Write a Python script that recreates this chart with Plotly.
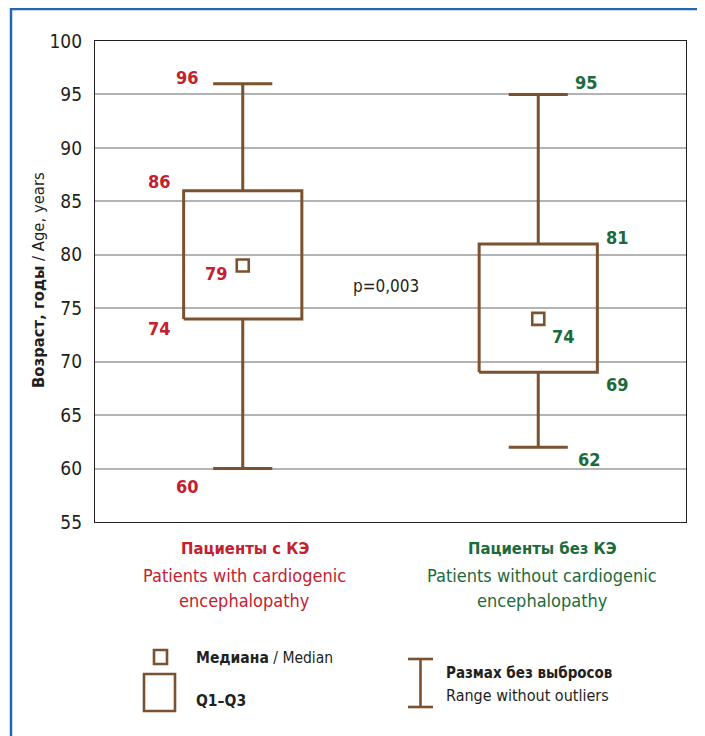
import plotly.graph_objects as go

# ---------------- data ----------------
groups_ru = ["Пациенты с КЭ", "Пациенты без КЭ"]
groups_en_line1 = ["Patients with cardiogenic", "Patients without cardiogenic"]
groups_en_line2 = ["encephalopathy", "encephalopathy"]
minimum = [60, 62]
q1 = [74, 69]
median = [79, 74]
q3 = [86, 81]
maximum = [96, 95]
p_value_text = "p=0,003"
y_ticks = [55, 60, 65, 70, 75, 80, 85, 90, 95, 100]

# ---------------- style ----------------
OFF = 8  # browser default body margin
W, H = 705 - OFF, 736 - OFF
ML, MT = 95 - OFF, 41 - OFF
PW, PH = 591, 481
MR = W - ML - PW
MB = H - MT - PH
FONT = "Liberation Sans Narrow, Arial Narrow, DejaVu Sans Condensed, sans-serif"
BROWN = "#7A5230"
RED = "#C4202F"
GREEN = "#1B6B3A"
DARK = "#231F20"
BLUE = "#2266B0"
group_colors = [RED, GREEN]
positions = [0.25, 0.75]
box_half = 0.10
cap_half = 0.05


def px_x(px):
    return (px - OFF - ML) / PW


def px_y(py):
    return (MT + PH - (py - OFF)) / PH


fig = go.Figure()

for i, c in enumerate(positions):
    # box Q1-Q3
    fig.add_trace(go.Scatter(
        x=[c - box_half, c + box_half, c + box_half, c - box_half, c - box_half],
        y=[q1[i], q1[i], q3[i], q3[i], q1[i]],
        mode="lines", line=dict(color=BROWN, width=3), hoverinfo="skip", showlegend=False))
    # whiskers
    fig.add_trace(go.Scatter(
        x=[c, c, None, c - cap_half, c + cap_half, None, c, c, None, c - cap_half, c + cap_half],
        y=[q3[i], maximum[i], None, maximum[i], maximum[i], None,
           q1[i], minimum[i], None, minimum[i], minimum[i]],
        mode="lines", line=dict(color=BROWN, width=3), hoverinfo="skip", showlegend=False))
    # median
    fig.add_trace(go.Scatter(
        x=[c], y=[median[i]], mode="markers",
        marker=dict(symbol="square-open", size=12, color=BROWN, line=dict(width=2.6, color=BROWN)),
        hoverinfo="skip", showlegend=False))

annotations = []

# value labels (xshift, yshift in px relative to the value's position)
label_offsets = [
    # group 1 : min, q1, median, q3, max
    [(-55, -18), (-83, -10), (-26, -8), (-83, 9), (-55, 6)],
    # group 2
    [(51, -12), (79, -12), (25, -18), (79, 7), (48, 12)],
]
for i, c in enumerate(positions):
    vals = [minimum[i], q1[i], median[i], q3[i], maximum[i]]
    for v, (dx, dy) in zip(vals, label_offsets[i]):
        annotations.append(dict(
            x=c, y=v, xref="x", yref="y", text=f"<b>{v}</b>", showarrow=False,
            xshift=dx, yshift=dy, xanchor="center", yanchor="middle",
            font=dict(family=FONT, size=18, color=group_colors[i])))

# p-value
annotations.append(dict(
    x=px_x(386), y=px_y(286), xref="paper", yref="paper", text=p_value_text,
    showarrow=False, xanchor="center", yanchor="middle",
    font=dict(family=FONT, size=17, color=DARK)))

# category labels
for i, c in enumerate(positions):
    for txt, py, sz in [(f"<b>{groups_ru[i]}</b>", 548, 16.5),
                        (groups_en_line1[i], 575, 18),
                        (groups_en_line2[i], 600, 18)]:
        annotations.append(dict(
            x=c, y=px_y(py), xref="x", yref="paper", text=txt, showarrow=False,
            xshift=2 if i == 0 else 4,
            xanchor="center", yanchor="middle",
            font=dict(family=FONT, size=sz, color=group_colors[i])))

# y-axis title
annotations.append(dict(
    x=px_x(38), y=px_y(280), xref="paper", yref="paper",
    text="<b>Возраст, годы</b> / Age, years", textangle=-90, showarrow=False,
    xanchor="center", yanchor="middle", font=dict(family=FONT, size=16.5, color=DARK)))

# legend texts
legend_texts = [
    ("<b>Медиана</b> / Median", 194, 658, 15.5),
    ("<b>Q1–Q3</b>", 194, 701, 15.5),
    ("<b>Размах без выбросов</b>", 444, 673, 15),
    ("Range without outliers", 444, 695, 16),
]
for txt, x0, y0, sz in legend_texts:
    annotations.append(dict(
        x=px_x(x0), y=px_y(y0), xref="paper", yref="paper", text=txt, showarrow=False,
        xanchor="left", yanchor="middle", font=dict(family=FONT, size=sz, color=DARK)))

shapes = [
    # outer blue frame
    dict(type="rect", xref="paper", yref="paper", x0=px_x(11), x1=px_x(700),
         y0=px_y(760), y1=px_y(9), line=dict(color=BLUE, width=2.5), layer="below"),
    # legend: median square
    dict(type="rect", xref="paper", yref="paper", x0=px_x(154), x1=px_x(167),
         y0=px_y(664), y1=px_y(650), line=dict(color=BROWN, width=2.6)),
    # legend: Q1-Q3 box
    dict(type="rect", xref="paper", yref="paper", x0=px_x(144), x1=px_x(175),
         y0=px_y(711), y1=px_y(674), line=dict(color=BROWN, width=2.6)),
    # legend: range I-beam
    dict(type="line", xref="paper", yref="paper", x0=px_x(420.5), x1=px_x(420.5),
         y0=px_y(659), y1=px_y(707), line=dict(color=BROWN, width=2.6)),
    dict(type="line", xref="paper", yref="paper", x0=px_x(408), x1=px_x(433),
         y0=px_y(659), y1=px_y(659), line=dict(color=BROWN, width=2.6)),
    dict(type="line", xref="paper", yref="paper", x0=px_x(408), x1=px_x(433),
         y0=px_y(707), y1=px_y(707), line=dict(color=BROWN, width=2.6)),
]

fig.update_layout(
    width=W, height=H, autosize=False,
    margin=dict(l=ML, r=MR, t=MT, b=MB, pad=0),
    paper_bgcolor="white", plot_bgcolor="white",
    showlegend=False,
    xaxis=dict(range=[0, 1], showgrid=False, zeroline=False, showticklabels=False,
               ticks="", showline=True, mirror=True, linecolor=DARK, linewidth=1.2, fixedrange=True),
    yaxis=dict(range=[55, 100], tickvals=y_ticks, ticktext=[str(t) for t in y_ticks],
               showgrid=True, gridcolor="#B4B4B4", gridwidth=1.5, zeroline=False,
               ticks="", ticklabelstandoff=8,
               tickfont=dict(family=FONT, size=19, color=DARK),
               showline=True, mirror=True, linecolor=DARK, linewidth=1.2, fixedrange=True),
    annotations=annotations,
    shapes=shapes,
)

fig.write_html("out.html")
